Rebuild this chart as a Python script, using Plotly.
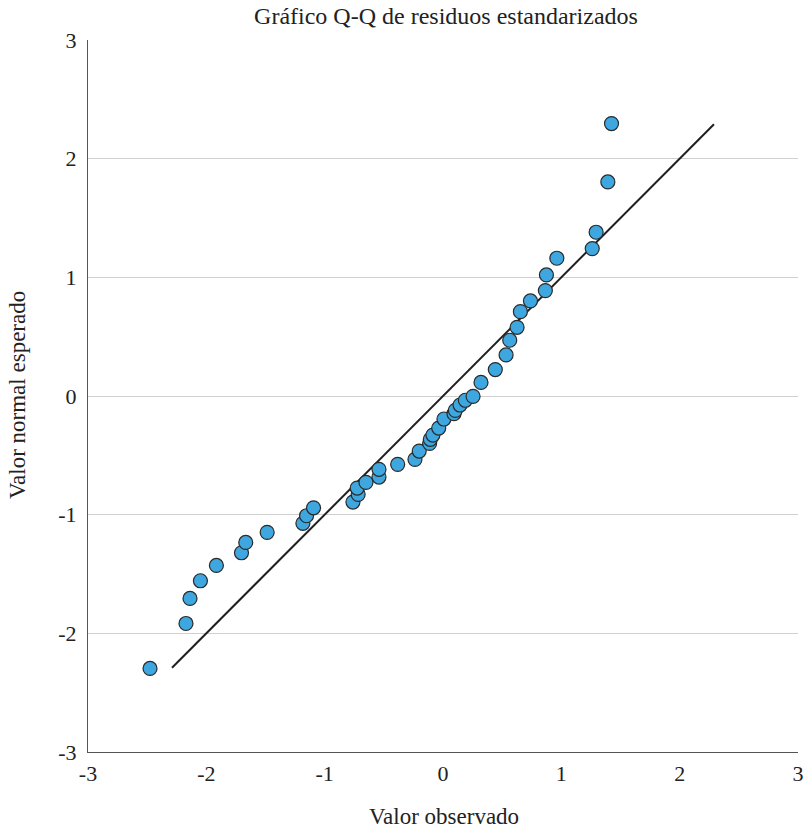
import plotly.graph_objects as go

observed = [-2.476, -2.172, -2.138, -2.050, -1.915, -1.703, -1.667, -1.486, -1.184, -1.153,
            -1.094, -0.761, -0.717, -0.725, -0.651, -0.541, -0.541, -0.383, -0.237, -0.201,
            -0.113, -0.107, -0.085, -0.036, 0.008, 0.093, 0.104, 0.144, 0.189, 0.254,
            0.321, 0.442, 0.533, 0.564, 0.626, 0.654, 0.739, 0.865, 0.874, 0.962,
            1.261, 1.294, 1.393, 1.424]
expected = [-2.296, -1.917, -1.706, -1.557, -1.428, -1.321, -1.234, -1.149, -1.073, -1.009,
            -0.942, -0.894, -0.829, -0.776, -0.728, -0.683, -0.618, -0.576, -0.534, -0.464,
            -0.399, -0.365, -0.329, -0.270, -0.194, -0.149, -0.121, -0.076, -0.036, -0.003,
            0.114, 0.223, 0.346, 0.470, 0.579, 0.711, 0.801, 0.888, 1.020, 1.161,
            1.242, 1.380, 1.804, 2.296]
ref_line = [-2.29, 2.29]
ticks = [-3, -2, -1, 0, 1, 2, 3]

font_family = "Liberation Serif, DejaVu Serif, serif"

W, H = 812, 832
L, R, T, B = 88, 14, 40, 80
PW, PH = W - L - R, H - T - B

fig = go.Figure()
fig.add_trace(go.Scatter(x=ref_line, y=ref_line, mode="lines",
                         line=dict(color="#1f1f1f", width=2), hoverinfo="skip",
                         showlegend=False))
fig.add_trace(go.Scatter(x=observed, y=expected, mode="markers",
                         marker=dict(size=14, color="#3ea7df",
                                     line=dict(color="#2a2a2a", width=1.2)),
                         showlegend=False))

fig.update_layout(
    width=W, height=H,
    margin=dict(l=L, r=R, t=T, b=B),
    paper_bgcolor="white", plot_bgcolor="white",
    font=dict(family=font_family, color="#222222"),
    title=dict(text="Gráfico Q-Q de residuos estandarizados", x=(446 - L) / PW, xanchor="center",
               xref="paper", y=1 - 16 / H, yref="container", yanchor="middle",
               automargin=False, font=dict(size=24, family=font_family, color="#222")),
    xaxis=dict(range=[-3, 3], tickvals=ticks, ticktext=[str(t) for t in ticks],
               showgrid=False, zeroline=False, showline=True, linecolor="#555", linewidth=1,
               ticks="", tickfont=dict(size=22), ticklabelstandoff=2, automargin=False),
    yaxis=dict(range=[-3, 3], tickvals=ticks, ticktext=[str(t) for t in ticks],
               showgrid=True, gridcolor="#d0d0d0", gridwidth=1, zeroline=False,
               showline=True, linecolor="#555", linewidth=1,
               ticks="", tickfont=dict(size=22), ticklabelstandoff=6, automargin=False),
    annotations=[
        dict(text="Valor observado", xref="paper", yref="paper", x=(444 - L) / PW,
             y=-(816 - (H - B)) / PH, xanchor="center", yanchor="middle", showarrow=False,
             font=dict(size=23, family=font_family, color="#222")),
        dict(text="Valor normal esperado", xref="paper", yref="paper", x=-(L - 17) / PW,
             y=((H - B) - 395) / PH, xanchor="center", yanchor="middle", showarrow=False,
             textangle=-90, font=dict(size=23, family=font_family, color="#222")),
    ],
)

fig.write_html("out.html", config={"displayModeBar": False},
               post_script="document.body.style.margin='0px';")
